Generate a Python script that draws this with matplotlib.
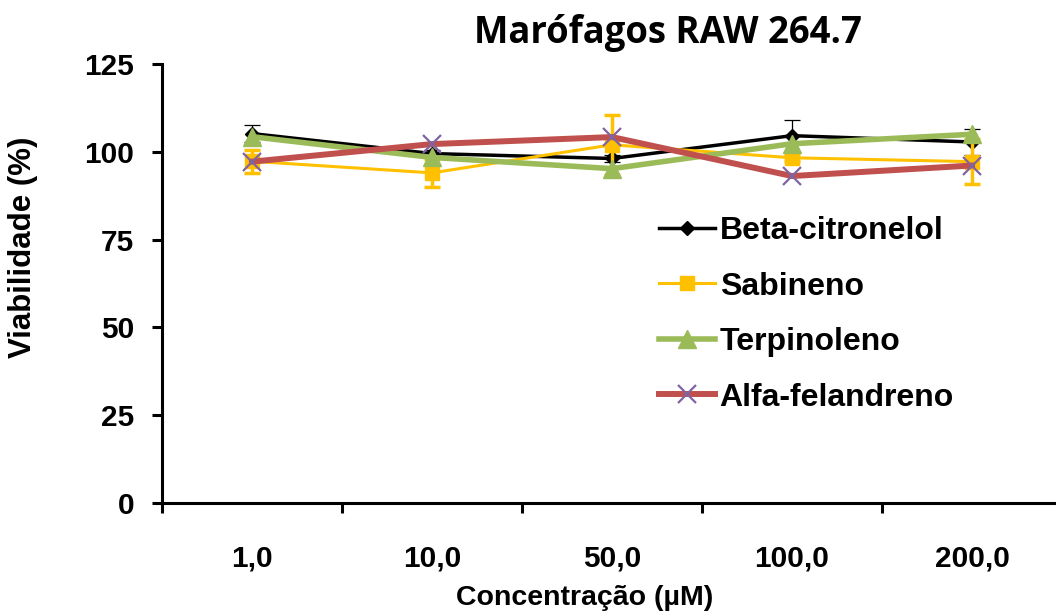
import matplotlib
matplotlib.use('Agg')
import matplotlib.pyplot as plt

categories = ['1,0', '10,0', '50,0', '100,0', '200,0']

beta_citronelol = [105.2, 99.5, 98.1, 104.6, 102.8]
beta_citronelol_err = [2.3, 1.0, 1.0, 4.6, 3.8]

sabineno = [97.3, 94.0, 102.0, 98.3, 97.2]
sabineno_err = [3.3, 4.0, 8.5, 1.0, 6.4]

terpinoleno = [104.3, 98.4, 95.2, 102.3, 105.0]
alfa_felandreno = [97.2, 102.2, 104.2, 93.1, 96.1]

plt.rcParams['font.family'] = ['Liberation Sans', 'DejaVu Sans']
plt.rcParams['font.weight'] = 'bold'

fig = plt.figure(figsize=(10.56, 6.12), dpi=100)
ax = fig.add_axes([0.1534, 0.1781, 0.8523, 0.7173])

x = list(range(1, len(categories) + 1))

eb1 = ax.errorbar(x, beta_citronelol, yerr=beta_citronelol_err, color='black', lw=2.5,
                  marker='D', ms=7, elinewidth=0.9, capsize=6, capthick=0.9, zorder=3)
eb2 = ax.errorbar(x, sabineno, yerr=sabineno_err, color='#FFC000', lw=2.2,
                  marker='s', ms=9.5, elinewidth=2.5, capsize=6, capthick=2.5, zorder=4)
l3, = ax.plot(x, terpinoleno, color='#9BBB59', lw=4.0, marker='^', ms=13, zorder=5)
l4, = ax.plot(x, alfa_felandreno, color='#C0504D', lw=4.3, marker='x', ms=13,
              mec='#8064A2', mew=1.6, zorder=6)

ax.set_xlim(0.5, 5.5)
ax.set_ylim(0, 125)
ax.set_yticks([0, 25, 50, 75, 100, 125])
ax.set_xticks([i + 0.5 for i in range(0, 5)])
ax.set_xticklabels([])
ax.set_xticks(x, labels=categories, minor=True)
ax.tick_params(axis='x', which='minor', length=0, pad=30, labelsize=21.5)
ax.tick_params(axis='x', which='major', length=7, width=2.2, direction='out')
ax.tick_params(axis='y', length=7, width=2.2, pad=13, labelsize=21.5)

for s in ['top', 'right']:
    ax.spines[s].set_visible(False)
for s in ['left', 'bottom']:
    ax.spines[s].set_linewidth(2.2)

ax.set_ylabel('Viabilidade (%)', fontsize=22.5, fontweight='bold')
ax.yaxis.set_label_coords(-0.138, 0.582)
ax.set_xlabel('Concentração (µM)', fontsize=20.5, fontweight='bold')
ax.xaxis.set_label_coords(0.47, -0.187)

fig.text(0.6326, 0.946, 'Marófagos RAW 264.7', fontsize=26.3, fontweight='bold',
         family=['Open Sans', 'DejaVu Sans'], ha='center', va='center')

ax.legend([eb1[0], eb2[0], l3, l4],
          ['Beta-citronelol', 'Sabineno', 'Terpinoleno', 'Alfa-felandreno'],
          loc='upper left', bbox_to_anchor=(0.538, 0.683), frameon=False,
          fontsize=23, handlelength=1.75, handletextpad=0.15,
          labelspacing=0.8, borderaxespad=0)

fig.savefig('out.png', dpi=100)
